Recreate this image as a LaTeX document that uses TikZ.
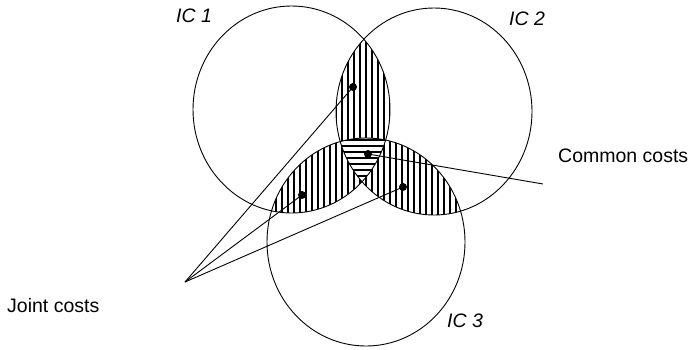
\documentclass[tikz,border=0pt]{standalone}
\usepackage{fontspec}
\setmainfont{Liberation Sans}
\begin{document}
\begin{tikzpicture}[x=1pt,y=-1pt,
  ring/.style={draw=black,line width=0.9pt},
  hatch/.style={line width=1.8pt},
  leader/.style={draw=black,line width=0.9pt},
  dot/.style={circle,fill=black,inner sep=0pt,minimum size=8pt},
  lbl/.style={font=\fontsize{19.5}{22}\selectfont,inner sep=0pt},
  iclbl/.style={font=\fontsize{19.5}{22}\selectfont\itshape,inner sep=0pt}]
\useasboundingbox (0,0) rectangle (696,349);
\coordinate (c1) at (291.5,109.5);
\coordinate (c2) at (434,111.5);
\coordinate (c3) at (366,242);
\def\eA{(c1) ellipse [x radius=98.5pt, y radius=103.5pt]}
\def\eB{(c2) ellipse [x radius=98pt, y radius=103.5pt]}
\def\eC{(c3) ellipse [x radius=99pt, y radius=104pt]}
% vertical hatching in pairwise overlaps
\begin{scope}
  \clip \eA; \clip \eB;
  \foreach \x in {300,306,...,420} \draw[hatch] (\x,0) -- (\x,349);
\end{scope}
\begin{scope}
  \clip \eA; \clip \eC;
  \foreach \x in {264,270,...,400} \draw[hatch] (\x,0) -- (\x,349);
\end{scope}
\begin{scope}
  \clip \eB; \clip \eC;
  \foreach \x in {330,336,...,480} \draw[hatch] (\x,0) -- (\x,349);
\end{scope}
% horizontal hatching in triple overlap
\begin{scope}
  \clip \eA; \clip \eB; \clip \eC;
  \fill[white] (250,100) rectangle (480,220);
  \foreach \y in {134,140,...,200} \draw[hatch] (250,\y) -- (480,\y);
\end{scope}
% circles
\draw[ring] \eA;
\draw[ring] \eB;
\draw[ring] \eC;
% dots
\node[dot] (j1) at (353,87) {};
\node[dot] (cc) at (368,154) {};
\node[dot] (j2) at (302,195) {};
\node[dot] (j3) at (403,187) {};
\coordinate (apex) at (185,282);
\coordinate (cend) at (543,184);
\draw[leader] (apex) -- (j1.center);
\draw[leader] (apex) -- (j2.center);
\draw[leader] (apex) -- (j3.center);
\draw[leader] (cc.center) -- (cend);
% labels
\node[iclbl] (l1) at (194,16) {IC 1};
\node[iclbl] (l2) at (527,19) {IC 2};
\node[iclbl] (l3) at (465,321) {IC 3};
\node[lbl,anchor=west] (common) at (558,156) {Common costs};
\node[lbl,anchor=west] (joint) at (7,306) {Joint costs};
\end{tikzpicture}
\end{document}
